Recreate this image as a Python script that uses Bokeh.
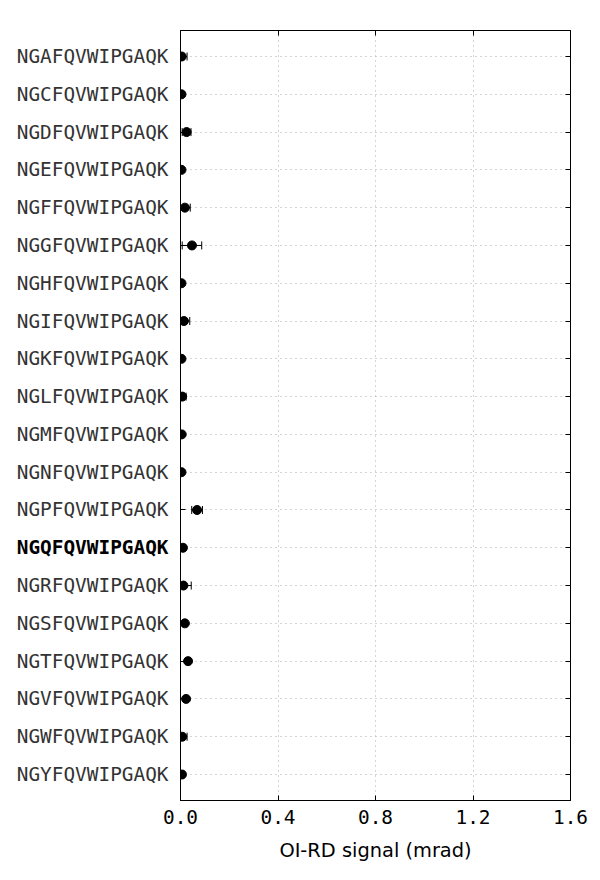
from bokeh.plotting import figure
from bokeh.models import (Range1d, FixedTicker, LinearAxis, Label, ColumnDataSource)
from bokeh.embed import file_html
from bokeh.resources import INLINE
import math

categories = ["NGAFQVWIPGAQK", "NGCFQVWIPGAQK", "NGDFQVWIPGAQK", "NGEFQVWIPGAQK",
              "NGFFQVWIPGAQK", "NGGFQVWIPGAQK", "NGHFQVWIPGAQK", "NGIFQVWIPGAQK",
              "NGKFQVWIPGAQK", "NGLFQVWIPGAQK", "NGMFQVWIPGAQK", "NGNFQVWIPGAQK",
              "NGPFQVWIPGAQK", "NGQFQVWIPGAQK", "NGRFQVWIPGAQK", "NGSFQVWIPGAQK",
              "NGTFQVWIPGAQK", "NGVFQVWIPGAQK", "NGWFQVWIPGAQK", "NGYFQVWIPGAQK"]
values = [0.005, 0.004, 0.025, 0.004, 0.018, 0.047, 0.004, 0.014, 0.004, 0.007,
          0.005, 0.004, 0.068, 0.010, 0.012, 0.018, 0.031, 0.023, 0.007, 0.006]
errors = [0.022, 0.004, 0.018, 0.004, 0.022, 0.040, 0.003, 0.024, 0.004, 0.016,
          0.004, 0.007, 0.022, 0.004, 0.032, 0.006, 0.010, 0.006, 0.020, 0.007]
highlight = "NGQFQVWIPGAQK"
x_ticks = [0.0, 0.4, 0.8, 1.2, 1.6]
x_label = "OI-RD signal (mrad)"

n = len(categories)
ypos = list(range(n))
lo = [v - e for v, e in zip(values, errors)]
hi = [v + e for v, e in zip(values, errors)]
src = ColumnDataSource(dict(y=ypos, v=values, lo=lo, hi=hi))

FS = "19.4px"
MONO = "DejaVu Sans Mono"

p = figure(width=600, height=880, output_backend="svg", toolbar_location=None,
           x_range=Range1d(0, 1.6), y_range=Range1d(n - 1 + 0.688, -0.688),
           min_border_left=180, min_border_right=30, min_border_top=30,
           min_border_bottom=80, x_axis_location="below")
p.outline_line_color = "black"
p.outline_line_width = 1

# axes
xa = p.xaxis[0]
xa.ticker = FixedTicker(ticks=x_ticks)
xa.major_label_overrides = {t: f"{t:.1f}" for t in x_ticks}
xa.major_tick_in = 5
xa.major_tick_out = 0
xa.minor_tick_line_color = None
xa.major_label_text_font = MONO
xa.major_label_text_font_size = FS
xa.major_label_text_color = "black"
xa.major_label_standoff = 9
xa.axis_label = x_label
xa.axis_label_text_font = "DejaVu Sans"
xa.axis_label_text_font_size = FS
xa.axis_label_text_font_style = "normal"
xa.axis_label_text_color = "black"
xa.axis_label_standoff = 12
xa.axis_line_color = "black"

ya = p.yaxis[0]
ya.ticker = FixedTicker(ticks=ypos)
ya.major_label_overrides = {i: ("" if c == highlight else c) for i, c in enumerate(categories)}
ya.major_tick_in = 5
ya.major_tick_out = 0
ya.minor_tick_line_color = None
ya.major_label_text_font = MONO
ya.major_label_text_font_size = FS
ya.major_label_text_color = "#333333"
ya.major_label_standoff = 12
ya.axis_line_color = "black"

top = LinearAxis(ticker=FixedTicker(ticks=x_ticks), major_tick_in=5, major_tick_out=0,
                 minor_tick_line_color=None, major_label_standoff=0,
                 major_label_overrides={t: "" for t in x_ticks}, axis_line_color="black")
p.add_layout(top, "above")
right = LinearAxis(ticker=FixedTicker(ticks=ypos), major_tick_in=5, major_tick_out=0,
                   minor_tick_line_color=None, major_label_standoff=0,
                   major_label_overrides={i: "" for i in ypos}, axis_line_color="black")
p.add_layout(right, "right")

# grid
p.xgrid.ticker = FixedTicker(ticks=x_ticks)
p.ygrid.ticker = FixedTicker(ticks=ypos)
for g in (p.xgrid[0], p.ygrid[0]):
    g.grid_line_color = "#aaaaaa"
    g.grid_line_dash = "1 4"
    g.grid_line_width = 1

# error bars
p.segment(x0="lo", x1="hi", y0="y", y1="y", source=src, line_color="black", line_width=1)
p.scatter(x="lo", y="y", source=src, marker="dash", size=8, angle=math.pi / 2,
          line_color="black", line_width=1)
p.scatter(x="hi", y="y", source=src, marker="dash", size=8, angle=math.pi / 2,
          line_color="black", line_width=1)
p.scatter(x="v", y="y", source=src, marker="circle", size=9, fill_color="black",
          line_color="black")

# bold highlighted label: placed in a side panel so it is not clipped to the frame,
# its position still follows the data scales
hi_i = categories.index(highlight)
p.add_layout(Label(x=0, y=ypos[hi_i], x_offset=-12, text=highlight, text_align="right",
                   text_baseline="middle", text_font=MONO, text_font_size=FS,
                   text_font_style="bold", text_color="black"), "above")

open("out.html", "w").write(file_html(p, INLINE))
